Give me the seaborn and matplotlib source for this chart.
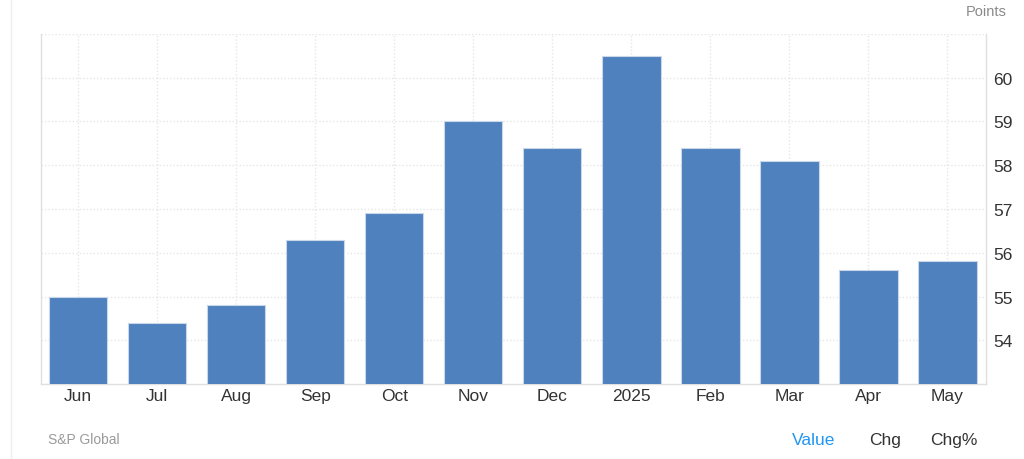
import matplotlib
matplotlib.use("Agg")
import matplotlib.pyplot as plt
import seaborn as sns
import pandas as pd

# Monthly PMI readings (points)
months = ["Jun", "Jul", "Aug", "Sep", "Oct", "Nov", "Dec", "2025", "Feb", "Mar", "Apr", "May"]
values = [55.0, 54.4, 54.8, 56.3, 56.9, 59.0, 58.4, 60.5, 58.4, 58.1, 55.6, 55.8]
y_ticks = [54, 55, 56, 57, 58, 59, 60]

df = pd.DataFrame({"month": months, "value": values})

sns.set_theme(style="white")
plt.rcParams["font.family"] = ["Liberation Sans", "DejaVu Sans"]

fig = plt.figure(figsize=(10.24, 4.6), dpi=100)
ax = fig.add_axes([0.040, 0.163, 0.923, 0.761])

sns.barplot(data=df, x="month", y="value", color="#4e81bd", saturation=1,
            width=0.74, edgecolor="#c9d7ea", linewidth=0.8, ax=ax, zorder=3)

ax.set_ylim(53.0, 61.0)
ax.set_xlim(-0.47, 11.49)
ax.set_yticks(y_ticks)
ax.yaxis.tick_right()
ax.tick_params(axis="y", length=0, pad=5, labelsize=12.5, labelcolor="#333333")
ax.tick_params(axis="x", length=0, pad=3, labelsize=12.5, labelcolor="#333333")
ax.set_xlabel("")
ax.set_ylabel("")

# dotted grid, vertical lines through bar centres
ax.grid(True, axis="both", linestyle=(0, (1, 1.5)), color="#e6e6e6", linewidth=1, zorder=0)
ax.axhline(61.0, linestyle=(0, (1, 1.5)), color="#e6e6e6", linewidth=1, zorder=0)

for side in ["left", "bottom", "right"]:
    ax.spines[side].set_color("#e0e0e0")
    ax.spines[side].set_linewidth(1)
ax.spines["top"].set_visible(False)

fig.text(0.983, 0.989, "Points", ha="right", va="top", fontsize=10.5, color="#8a8a8a")
fig.text(0.047, 0.043, "S&P Global", ha="left", va="center", fontsize=10, color="#9a9a9a")
fig.text(0.795, 0.043, "Value", ha="center", va="center", fontsize=12.5, color="#2196f3")
fig.text(0.864, 0.043, "Chg", ha="center", va="center", fontsize=12.5, color="#333333")
fig.text(0.931, 0.043, "Chg%", ha="center", va="center", fontsize=12.5, color="#333333")

# faint page border line
fig.add_artist(plt.Line2D([0.011, 0.011], [0, 1], color="#eeeeee", linewidth=1))

fig.savefig("out.png", dpi=100)
